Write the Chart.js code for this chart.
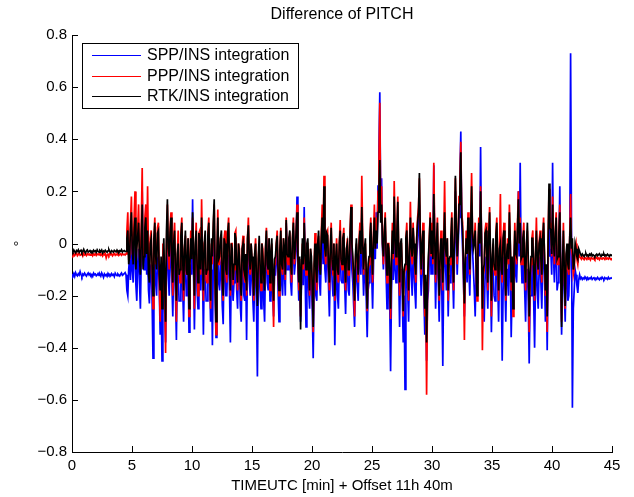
<!DOCTYPE html>
<html>
<head>
<meta charset="utf-8">
<title>Difference of PITCH</title>
<script src="https://cdn.jsdelivr.net/npm/chart.js@4.4.1/dist/chart.umd.min.js"></script>
<style>
  html, body { margin: 0; padding: 0; background: #fff; }
  #wrap { width: 634px; height: 497px; }
</style>
</head>
<body>
<div id="wrap"><canvas id="pitchChart" width="634" height="497"></canvas></div>
<script>
// samples every 0.075 min, starting at minute 0
const SAMPLE_STEP_MIN = 0.075;

const chartTitle = "Difference of PITCH";
const xTicks = [0, 5, 10, 15, 20, 25, 30, 35, 40, 45];
const yTicks = [-0.8, -0.6, -0.4, -0.2, 0, 0.2, 0.4, 0.6, 0.8];
const seriesLabels = ["SPP/INS integration", "PPP/INS integration", "RTK/INS integration"];
const seriesColors = ["#0000ff", "#ff0000", "#000000"];

// SPP/INS pitch difference [deg]
const sppPitch = [
  -0.118,-0.123,-0.115,-0.126,-0.112,-0.120,-0.124,-0.116,-0.121,-0.108,
  -0.119,-0.127,-0.117,-0.122,-0.114,-0.120,-0.125,-0.118,-0.113,-0.121,
  -0.116,-0.123,-0.119,-0.126,-0.114,-0.120,-0.117,-0.124,-0.121,-0.115,
  -0.122,-0.118,-0.125,-0.113,-0.120,-0.130,-0.117,-0.123,-0.119,-0.126,
  -0.115,-0.121,-0.118,-0.124,-0.116,-0.122,-0.119,-0.127,-0.114,-0.120,
  -0.123,-0.117,-0.121,-0.125,-0.118,-0.113,-0.122,-0.119,-0.116,-0.112,
  -0.12,-0.18,-0.20,-0.10,-0.05,-0.14,0.02,-0.10,-0.15,-0.05,0.05,-0.16,-0.22,-0.08,-0.02,-0.15,-0.25,-0.05,0.20,-0.08,
  -0.10,-0.02,0.05,-0.12,0.00,-0.18,-0.23,-0.10,-0.08,-0.22,-0.44,-0.12,-0.02,-0.15,-0.20,-0.06,-0.05,-0.18,-0.35,-0.20,
  -0.45,-0.15,-0.10,-0.25,-0.38,-0.10,0.05,-0.12,-0.20,-0.06,0.02,-0.15,-0.28,-0.08,-0.05,-0.20,-0.37,-0.10,-0.12,-0.22,
  -0.22,-0.08,0.00,-0.18,-0.30,-0.10,-0.05,-0.20,-0.20,-0.08,-0.34,-0.15,-0.08,-0.12,0.17,-0.10,-0.33,-0.12,-0.02,-0.18,
  -0.25,-0.06,-0.05,-0.18,0.05,-0.12,-0.35,-0.10,-0.10,-0.22,-0.22,-0.05,0.00,-0.15,-0.30,-0.10,-0.39,-0.08,0.05,-0.20,
  -0.36,-0.12,0.02,-0.15,-0.18,-0.08,-0.10,-0.24,-0.31,-0.06,-0.08,-0.20,-0.20,-0.06,-0.05,-0.18,-0.38,-0.10,-0.12,-0.22,
  -0.15,-0.06,-0.05,-0.18,-0.25,-0.08,-0.10,-0.24,-0.30,-0.10,-0.08,-0.20,-0.22,-0.10,-0.37,-0.08,0.00,-0.14,-0.20,-0.08,
  -0.10,-0.22,-0.30,-0.10,-0.05,-0.24,-0.51,-0.15,-0.08,-0.18,-0.25,-0.06,-0.10,-0.22,-0.30,-0.08,0.02,-0.15,-0.18,-0.06,
  -0.22,-0.10,-0.05,-0.20,-0.28,-0.12,-0.12,-0.04,-0.02,-0.18,-0.30,-0.10,0.00,-0.15,-0.20,-0.06,-0.10,-0.20,0.08,-0.10,
  -0.10,-0.04,-0.02,-0.15,-0.20,-0.05,0.05,-0.12,-0.08,-0.02,0.18,-0.10,-0.22,-0.12,-0.30,-0.15,-0.05,-0.16,0.14,-0.12,
  -0.32,-0.10,-0.05,-0.18,-0.25,-0.10,-0.15,-0.26,-0.44,-0.18,-0.10,-0.20,-0.22,-0.06,-0.02,-0.15,-0.20,-0.04,0.05,-0.08,
  0.10,-0.10,-0.15,-0.02,-0.05,-0.16,-0.28,-0.10,0.00,-0.14,-0.20,-0.06,-0.39,-0.15,-0.08,-0.20,-0.25,-0.08,-0.02,-0.14,
  -0.15,-0.05,-0.02,-0.16,-0.27,-0.10,-0.08,-0.18,-0.20,-0.04,0.05,-0.10,-0.15,-0.24,-0.32,-0.12,-0.10,-0.16,-0.22,-0.06,
  -0.05,-0.12,0.10,-0.08,-0.20,-0.10,-0.10,-0.22,-0.36,-0.18,-0.15,-0.05,0.00,-0.12,-0.25,-0.08,0.08,-0.06,0.12,-0.02,
  0.22,0.35,0.58,0.15,0.25,-0.02,-0.10,0.00,0.05,-0.12,-0.25,-0.08,-0.10,-0.22,-0.49,-0.18,-0.05,-0.14,0.10,-0.10,
  -0.15,-0.05,0.05,-0.12,-0.32,-0.10,-0.10,-0.20,-0.38,-0.20,-0.56,-0.15,-0.05,-0.18,-0.30,-0.10,0.02,-0.12,-0.20,-0.05,
  -0.10,-0.18,-0.25,-0.05,0.00,0.05,0.15,-0.08,-0.20,-0.06,-0.05,-0.20,-0.35,-0.20,-0.45,-0.22,-0.18,-0.06,0.02,-0.12,
  -0.02,-0.12,0.30,-0.05,-0.25,-0.08,0.00,-0.15,-0.30,-0.10,-0.10,-0.20,-0.47,-0.12,0.05,-0.08,-0.18,-0.05,-0.28,-0.12,
  -0.15,-0.05,0.05,-0.12,-0.25,-0.05,0.20,0.02,-0.12,-0.02,0.10,0.25,0.43,0.08,-0.02,-0.15,-0.28,-0.12,-0.05,-0.15,
  0.00,-0.10,-0.20,-0.02,0.15,-0.02,-0.10,-0.18,-0.28,-0.10,-0.15,-0.05,0.05,-0.05,0.37,-0.02,-0.18,-0.25,-0.30,-0.12,
  -0.05,-0.15,-0.25,-0.08,0.05,-0.12,-0.34,-0.15,-0.10,-0.20,-0.22,-0.06,0.00,-0.15,-0.30,-0.10,0.05,-0.15,-0.45,-0.18,
  -0.05,-0.15,-0.30,-0.10,-0.10,-0.20,0.05,-0.08,-0.36,-0.18,-0.25,-0.08,0.00,-0.12,-0.15,-0.02,0.20,-0.05,0.31,-0.05,
  -0.15,-0.06,-0.05,-0.18,-0.30,-0.10,-0.10,-0.22,-0.46,-0.20,-0.20,-0.08,-0.08,-0.22,-0.40,-0.15,-0.05,-0.18,-0.25,-0.10,
  -0.05,-0.15,-0.25,-0.08,0.00,-0.12,-0.30,-0.15,-0.41,-0.10,0.10,-0.05,-0.02,-0.12,0.31,-0.05,-0.15,-0.05,0.00,-0.18,
  -0.15,-0.02,0.22,-0.10,-0.35,-0.15,-0.05,-0.18,-0.30,-0.12,-0.10,-0.22,-0.20,-0.08,0.73,0.05,-0.63,-0.25,-0.18,-0.10,
  -0.12,-0.16,-0.19,-0.14,-0.12,
  -0.135,-0.130,-0.138,-0.132,-0.136,-0.128,-0.134,-0.139,-0.131,-0.137,-0.133,-0.135,
  -0.129,-0.138,-0.134,-0.131,-0.136,-0.133,-0.137,-0.130,-0.135,-0.139,-0.132,-0.136,
  -0.129,-0.134,-0.138,-0.131,-0.135,-0.133,-0.137,-0.130,-0.136,-0.134,-0.132,-0.135
];

// PPP/INS pitch difference [deg]
const pppPitch = [
  -0.040,-0.045,-0.038,-0.046,-0.041,-0.037,-0.047,-0.042,-0.036,-0.045,
  -0.043,-0.039,-0.048,-0.038,-0.044,-0.041,-0.046,-0.039,-0.043,-0.040,
  -0.045,-0.042,-0.038,-0.047,-0.041,-0.044,-0.039,-0.046,-0.042,-0.040,
  -0.044,-0.037,-0.045,-0.041,-0.048,-0.040,-0.043,-0.039,-0.055,-0.044,
  -0.041,-0.046,-0.038,-0.043,-0.040,-0.047,-0.042,-0.039,-0.045,-0.041,
  -0.044,-0.038,-0.046,-0.042,-0.040,-0.045,-0.039,-0.043,-0.041,-0.044,
  -0.04,0.05,0.12,-0.06,-0.06,0.08,0.18,-0.04,-0.05,0.10,0.20,-0.08,0.00,0.06,0.15,-0.05,-0.10,0.08,0.29,-0.06,
  -0.02,0.10,0.15,0.00,0.22,-0.05,-0.12,0.02,0.05,-0.10,-0.25,0.00,0.10,-0.08,-0.05,0.06,0.08,-0.15,-0.30,-0.08,
  -0.20,0.00,-0.05,-0.20,-0.42,0.00,0.15,-0.04,-0.10,0.06,0.12,-0.10,-0.20,0.02,0.08,-0.12,-0.30,-0.05,0.05,-0.10,
  -0.15,0.04,0.10,-0.08,-0.22,-0.02,0.03,-0.12,-0.10,0.02,-0.28,-0.08,0.05,-0.05,0.10,-0.06,-0.25,-0.02,0.08,-0.10,
  -0.20,0.04,0.05,-0.12,0.17,-0.04,-0.22,0.00,0.02,-0.14,-0.15,0.04,0.10,-0.10,-0.25,0.00,-0.08,0.06,0.15,-0.15,
  -0.35,-0.06,0.13,-0.08,-0.08,0.02,0.02,-0.16,-0.22,0.02,0.05,-0.12,-0.15,0.04,0.10,-0.10,-0.20,0.00,0.00,-0.16,
  -0.10,0.04,0.05,-0.12,-0.18,0.00,-0.02,-0.16,-0.22,-0.02,0.03,-0.12,-0.15,-0.04,-0.20,0.02,0.10,-0.08,-0.12,0.00,
  -0.08,-0.14,-0.22,-0.04,0.02,-0.16,-0.20,-0.06,0.00,-0.10,-0.18,0.00,-0.02,-0.14,-0.15,-0.02,0.06,-0.10,-0.12,0.02,
  -0.18,-0.04,0.00,-0.14,-0.32,-0.08,-0.08,0.00,0.05,-0.12,-0.20,-0.02,0.06,-0.10,-0.12,0.02,-0.05,-0.14,0.10,-0.06,
  -0.08,0.02,0.03,-0.10,-0.15,0.02,0.10,-0.08,-0.05,0.04,0.15,-0.06,-0.18,-0.06,-0.28,-0.12,0.00,-0.10,0.10,-0.06,
  -0.12,0.00,0.00,-0.12,-0.20,-0.02,-0.08,-0.18,-0.34,-0.10,0.04,-0.12,-0.18,0.00,0.03,-0.10,-0.10,0.04,0.15,0.02,
  0.26,-0.04,-0.08,0.04,0.05,-0.10,-0.18,-0.02,0.08,-0.08,-0.12,0.00,-0.22,-0.08,0.02,-0.12,-0.15,0.00,0.09,-0.08,
  -0.10,0.02,0.06,-0.10,-0.18,-0.02,0.02,-0.12,-0.12,0.05,0.15,0.00,-0.08,-0.14,-0.28,-0.06,0.00,-0.08,-0.15,0.02,
  0.08,-0.04,0.26,0.02,-0.12,-0.02,0.00,-0.14,-0.26,-0.10,-0.08,0.02,0.10,-0.06,-0.15,0.04,0.15,-0.02,0.10,0.04,
  0.20,0.30,0.54,0.12,0.22,0.00,-0.08,0.05,0.12,-0.06,-0.15,0.00,0.00,-0.12,-0.29,-0.08,0.08,-0.06,0.24,0.04,
  -0.08,0.05,0.18,-0.04,-0.20,0.00,0.00,-0.12,-0.28,-0.12,-0.10,0.02,0.08,-0.08,-0.22,-0.02,0.16,-0.04,-0.08,0.08,
  -0.02,-0.10,-0.15,0.02,0.10,0.14,0.25,0.02,-0.12,0.00,0.08,-0.12,-0.28,-0.15,-0.58,-0.20,-0.08,0.02,0.12,-0.05,
  0.08,-0.08,0.31,0.04,-0.15,0.00,0.10,-0.10,-0.22,-0.05,0.05,-0.10,-0.18,0.00,0.24,-0.02,-0.08,0.02,-0.22,-0.08,
  -0.08,0.02,0.12,-0.08,-0.18,0.05,0.25,0.08,-0.08,0.02,0.18,0.24,0.39,0.12,0.08,-0.10,-0.37,-0.08,0.05,-0.04,
  0.12,-0.02,-0.12,0.08,0.27,0.05,0.00,0.00,0.08,-0.10,-0.22,-0.05,0.10,0.00,0.22,0.04,-0.41,-0.12,-0.10,0.05,
  0.08,-0.08,-0.18,0.02,0.14,-0.05,-0.28,-0.08,0.00,-0.10,-0.12,0.04,0.10,-0.08,-0.22,-0.02,0.19,-0.10,-0.15,0.02,
  0.08,-0.10,-0.22,-0.05,0.02,-0.08,0.15,0.00,-0.18,-0.06,-0.28,-0.10,0.08,-0.05,-0.08,0.08,0.20,0.00,0.10,-0.08,
  -0.08,0.02,0.08,-0.10,-0.18,0.00,0.05,-0.08,-0.34,-0.14,-0.08,0.02,0.05,-0.12,-0.22,-0.05,0.10,-0.08,-0.12,0.00,
  0.05,-0.08,-0.15,0.02,0.10,-0.05,-0.20,-0.10,-0.34,0.00,0.21,0.06,0.08,-0.05,0.18,0.00,-0.08,0.05,0.12,-0.08,
  -0.08,0.05,0.15,-0.12,-0.30,-0.10,0.08,-0.12,-0.25,-0.05,-0.02,-0.10,-0.12,0.02,0.19,-0.02,-0.05,-0.12,-0.10,-0.02,
  0.00,-0.06,-0.08,-0.04,-0.05,
  -0.055,-0.060,-0.052,-0.058,-0.062,-0.054,-0.057,-0.061,-0.053,-0.059,-0.056,-0.063,
  -0.054,-0.058,-0.060,-0.055,-0.061,-0.057,-0.053,-0.059,-0.056,-0.062,-0.054,-0.058,
  -0.060,-0.055,-0.057,-0.061,-0.053,-0.059,-0.056,-0.060,-0.054,-0.058,-0.062,-0.056
];

// RTK/INS pitch difference [deg]
const rtkPitch = [
  -0.028,-0.033,-0.025,-0.031,-0.036,-0.027,-0.030,-0.024,-0.034,-0.029,
  -0.026,-0.035,-0.030,-0.022,-0.032,-0.037,-0.028,-0.025,-0.033,-0.030,
  -0.027,-0.032,-0.029,-0.035,-0.026,-0.031,-0.028,-0.034,-0.024,-0.030,
  -0.033,-0.027,-0.031,-0.025,-0.036,-0.029,-0.032,-0.026,-0.030,-0.034,
  -0.028,-0.023,-0.031,-0.035,-0.027,-0.030,-0.033,-0.026,-0.029,-0.032,
  -0.025,-0.031,-0.036,-0.028,-0.030,-0.024,-0.033,-0.029,-0.027,-0.031,
  -0.03,0.02,0.05,-0.08,-0.05,0.06,0.12,-0.02,-0.08,0.04,0.10,-0.10,-0.02,0.03,0.08,-0.06,-0.12,0.02,0.15,-0.10,
  -0.05,0.06,0.10,-0.04,0.05,-0.12,-0.15,0.00,0.02,-0.08,-0.20,0.02,0.08,-0.05,-0.10,0.04,0.05,-0.12,-0.18,-0.05,
  -0.25,-0.08,0.02,-0.15,-0.30,0.05,0.17,-0.02,-0.05,0.04,0.10,-0.08,-0.15,0.00,0.05,-0.10,-0.22,-0.04,0.00,-0.12,
  -0.10,0.03,0.08,-0.06,-0.18,-0.02,0.05,-0.10,-0.12,0.02,-0.25,-0.08,0.02,-0.06,0.12,-0.04,-0.20,0.00,0.05,-0.08,
  -0.15,0.04,0.00,-0.10,0.10,-0.05,-0.18,0.00,0.05,-0.12,-0.10,0.03,0.08,-0.08,-0.22,0.02,-0.05,0.08,0.17,-0.12,
  -0.30,-0.05,0.10,-0.06,-0.05,0.02,0.05,-0.14,-0.20,0.02,0.00,-0.10,-0.12,0.04,0.08,-0.08,-0.18,0.00,-0.02,-0.14,
  -0.08,0.04,0.02,-0.10,-0.15,0.00,-0.05,-0.14,-0.20,-0.02,0.00,-0.10,-0.12,-0.04,-0.18,0.02,0.07,-0.06,-0.10,0.00,
  -0.05,-0.12,-0.20,-0.04,0.00,-0.14,-0.24,-0.06,0.03,-0.08,-0.15,0.00,-0.05,-0.12,-0.18,-0.02,0.05,-0.08,-0.10,0.02,
  -0.15,-0.04,0.02,-0.12,-0.22,-0.06,-0.05,0.00,0.03,-0.10,-0.18,-0.02,0.05,-0.08,-0.10,0.02,-0.02,-0.12,0.09,-0.04,
  -0.05,0.02,0.05,-0.08,-0.12,0.02,0.08,-0.06,-0.02,0.04,0.12,-0.05,-0.15,-0.05,-0.33,-0.10,0.02,-0.08,0.08,-0.04,
  -0.10,0.00,0.02,-0.10,-0.18,-0.02,-0.05,-0.16,-0.32,-0.08,0.00,-0.10,-0.15,0.00,0.05,-0.08,-0.12,0.02,0.10,0.00,
  0.22,-0.02,-0.05,0.04,0.03,-0.08,-0.15,-0.02,0.06,-0.06,-0.10,0.00,-0.20,-0.06,0.00,-0.10,-0.12,0.00,0.05,-0.06,
  -0.08,0.02,0.04,-0.08,-0.15,-0.02,0.00,-0.10,-0.10,0.04,0.14,0.00,-0.05,-0.12,-0.22,-0.04,0.02,-0.06,-0.12,0.00,
  0.05,-0.04,0.14,0.00,-0.10,-0.02,0.02,-0.12,-0.25,-0.08,-0.05,0.02,0.08,-0.04,-0.12,0.02,0.10,-0.02,0.05,0.00,
  0.12,0.20,0.32,0.08,0.15,0.00,-0.05,0.04,0.10,-0.04,-0.12,0.00,-0.02,-0.10,-0.25,-0.06,0.05,-0.04,0.18,0.02,
  -0.05,0.04,0.16,-0.02,-0.15,0.00,0.02,-0.10,-0.26,-0.10,-0.08,0.02,0.05,-0.06,-0.18,-0.02,0.10,-0.02,-0.05,0.06,
  0.00,-0.08,-0.12,0.02,0.08,0.12,0.27,0.02,-0.10,0.00,0.05,-0.10,-0.25,-0.12,-0.38,-0.15,-0.05,0.02,0.10,-0.04,
  0.05,-0.06,0.19,0.02,-0.12,0.00,0.08,-0.08,-0.20,-0.04,0.02,-0.08,-0.15,0.00,0.12,-0.02,-0.05,0.02,-0.18,-0.06,
  -0.05,0.02,0.10,-0.06,-0.15,0.04,0.26,0.06,-0.05,0.02,0.15,0.20,0.35,0.10,0.05,-0.08,-0.23,-0.06,0.02,-0.04,
  0.10,-0.02,-0.10,0.06,0.22,0.04,-0.02,0.00,0.05,-0.08,-0.20,-0.04,0.08,0.00,0.20,0.02,-0.25,-0.10,-0.08,0.04,
  0.05,-0.06,-0.15,0.02,0.12,-0.04,-0.22,-0.06,0.02,-0.08,-0.10,0.03,0.08,-0.06,-0.18,-0.02,0.00,-0.10,-0.12,0.02,
  0.05,-0.08,-0.20,-0.04,0.00,-0.06,0.12,0.00,-0.15,-0.05,-0.25,-0.08,0.05,-0.04,-0.05,0.06,0.17,0.00,0.08,-0.06,
  -0.05,0.02,0.05,-0.08,-0.15,0.00,0.08,-0.06,-0.28,-0.12,-0.05,0.02,0.02,-0.10,-0.20,-0.04,0.05,-0.06,-0.10,0.00,
  0.02,-0.06,-0.12,0.02,0.08,-0.04,-0.18,-0.08,-0.28,0.00,0.23,0.06,0.05,-0.04,0.15,0.00,-0.05,0.04,0.10,-0.06,
  -0.05,0.04,0.12,-0.10,-0.32,-0.08,0.05,-0.10,-0.24,-0.04,0.00,-0.08,-0.10,0.02,0.10,-0.02,0.02,-0.10,-0.08,0.00,
  -0.02,-0.05,-0.06,-0.02,-0.03,
  -0.042,-0.047,-0.040,-0.045,-0.050,-0.043,-0.038,-0.047,-0.044,-0.049,-0.041,-0.045,
  -0.039,-0.048,-0.043,-0.046,-0.050,-0.044,-0.041,-0.047,-0.043,-0.039,-0.046,-0.049,
  -0.042,-0.045,-0.040,-0.048,-0.044,-0.047,-0.041,-0.045,-0.049,-0.043,-0.046,-0.042
];

const FONT = "'Liberation Sans', Arial, Helvetica, sans-serif";

function toPoints(values) {
  return values.map((v, i) => ({ x: +(i * SAMPLE_STEP_MIN).toFixed(3), y: v }));
}

function fmtTick(v) {
  if (Math.abs(v) < 1e-9) return "0";
  return (v < 0 ? "\u2212" : "") + Math.abs(v).toFixed(1);
}

// MATLAB-ish look: centred title, inward ticks, boxed legend
const matlabLook = {
  id: "matlabLook",
  afterDraw(chart) {
    const { ctx, chartArea, scales } = chart;
    ctx.save();

    ctx.fillStyle = "#000";
    ctx.font = "16px " + FONT;
    ctx.textAlign = "center";
    ctx.textBaseline = "middle";
    ctx.fillText(chartTitle, (chartArea.left + chartArea.right) / 2, 15);

    ctx.strokeStyle = "#000";
    ctx.lineWidth = 1;
    ctx.beginPath();
    scales.x.ticks.forEach((t) => {
      const px = Math.round(scales.x.getPixelForValue(t.value)) + 0.5;
      ctx.moveTo(px, chartArea.bottom);
      ctx.lineTo(px, chartArea.bottom - 6);
    });
    scales.y.ticks.forEach((t) => {
      const py = Math.round(scales.y.getPixelForValue(t.value)) + 0.5;
      ctx.moveTo(chartArea.left, py);
      ctx.lineTo(chartArea.left + 6, py);
    });
    ctx.stroke();

    // legend box
    const bx = 82.5, by = 43.5, bw = 216, bh = 65;
    ctx.fillStyle = "#fff";
    ctx.fillRect(bx, by, bw, bh);
    ctx.strokeRect(bx, by, bw, bh);
    ctx.textAlign = "left";
    chart.data.datasets.forEach((ds, i) => {
      const y = 55 + i * 20.5;
      ctx.strokeStyle = ds.borderColor;
      ctx.beginPath();
      ctx.moveTo(92, Math.round(y) + 0.5);
      ctx.lineTo(141, Math.round(y) + 0.5);
      ctx.stroke();
      ctx.fillStyle = "#000";
      ctx.fillText(ds.label, 147, y + 1);
    });
    ctx.restore();
  }
};

new Chart(document.getElementById("pitchChart"), {
  type: "line",
  data: {
    datasets: [
      { label: seriesLabels[0], data: toPoints(sppPitch), borderColor: seriesColors[0], order: 3 },
      { label: seriesLabels[1], data: toPoints(pppPitch), borderColor: seriesColors[1], order: 2 },
      { label: seriesLabels[2], data: toPoints(rtkPitch), borderColor: seriesColors[2], order: 1 }
    ]
  },
  options: {
    responsive: false,
    animation: false,
    parsing: false,
    elements: {
      line: { borderWidth: 1.7, tension: 0, fill: false },
      point: { radius: 0 }
    },
    layout: { padding: { left: 0, right: 22, top: 35, bottom: 0 } },
    plugins: {
      legend: { display: false },
      tooltip: { enabled: false },
      title: { display: false }
    },
    scales: {
      x: {
        type: "linear",
        min: 0,
        max: 45,
        afterBuildTicks: (s) => { s.ticks = xTicks.map((v) => ({ value: v })); },
        afterFit: (s) => { s.height = 45; },
        grid: { display: false, drawTicks: false },
        border: { display: true, color: "#000", width: 1 },
        ticks: { color: "#000", font: { family: FONT, size: 15 }, padding: 5, maxRotation: 0, autoSkip: false },
        title: {
          display: true,
          text: "TIMEUTC [min] + Offset 11h 40m",
          color: "#000",
          font: { family: FONT, size: 15 },
          padding: { top: 0, bottom: 2 }
        }
      },
      y: {
        type: "linear",
        min: -0.8,
        max: 0.8,
        afterBuildTicks: (s) => { s.ticks = yTicks.map((v) => ({ value: v })); },
        afterFit: (s) => { s.width = 72; },
        grid: { display: false, drawTicks: false },
        border: { display: true, color: "#000", width: 1 },
        ticks: { color: "#000", font: { family: FONT, size: 15 }, padding: 5, callback: (v) => fmtTick(v) },
        title: {
          display: true,
          text: "\u00b0",
          color: "#000",
          font: { family: FONT, size: 15 },
          padding: { top: 11, bottom: 0 }
        }
      }
    }
  },
  plugins: [matlabLook]
});
</script>
</body>
</html>
